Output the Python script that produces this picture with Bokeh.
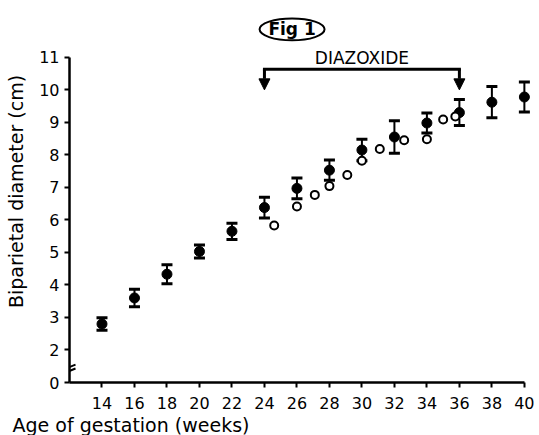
from bokeh.plotting import figure
from bokeh.models import (Range1d, FixedTicker, Whisker, TeeHead, ColumnDataSource,
                          Title, Arrow, NormalHead)
from bokeh.core.properties import value
from bokeh.embed import file_html
from bokeh.resources import INLINE

# ---- data ----
weeks_ref = [14, 16, 18, 20, 22, 24, 26, 28, 30, 32, 34, 36, 38, 40]
bpd_mean = [2.80, 3.60, 4.33, 5.03, 5.65, 6.38, 6.97, 7.53, 8.15, 8.55, 8.98, 9.30, 9.62, 9.78]
bpd_sd = [0.19, 0.27, 0.29, 0.20, 0.25, 0.32, 0.32, 0.31, 0.33, 0.50, 0.31, 0.40, 0.48, 0.46]

weeks_patient = [24.6, 26.0, 27.1, 28.0, 29.1, 30.0, 31.1, 32.6, 34.0, 35.0, 35.75]
bpd_patient = [5.83, 6.41, 6.77, 7.04, 7.38, 7.82, 8.18, 8.45, 8.48, 9.09, 9.18]

x_ticks = list(range(14, 41, 2))
y_ticks = list(range(1, 12))
y_tick_labels = {1: "0"}

diazoxide_start = 24
diazoxide_end = 36

FONT = "DejaVu Sans"

p = figure(width=535, height=435, x_range=Range1d(12, 40.5), y_range=Range1d(1, 12.748),
           output_backend="svg", toolbar_location=None,
           min_border_left=69, min_border_right=3, min_border_top=0, min_border_bottom=52)
p.outline_line_color = None
p.xgrid.visible = False
p.ygrid.visible = False
p.background_fill_color = "white"

for ax in (p.xaxis[0], p.yaxis[0]):
    ax.axis_line_width = 2.5
    ax.axis_line_color = "black"
    ax.major_tick_line_width = 2
    ax.major_tick_line_color = "black"
    ax.major_tick_out = 5
    ax.major_tick_in = 0
    ax.minor_tick_line_color = None
    ax.major_label_text_font = FONT
    ax.major_label_text_font_size = "16px"
    ax.major_label_text_color = "black"

p.xaxis.ticker = FixedTicker(ticks=x_ticks)
p.xaxis.bounds = (12, 40)
p.xaxis.major_label_standoff = 9
p.yaxis.ticker = FixedTicker(ticks=y_ticks)
p.yaxis.bounds = (1, 11)
p.yaxis.major_label_overrides = y_tick_labels
p.yaxis.major_label_standoff = 5
p.yaxis.axis_label = "Biparietal diameter (cm)"
p.yaxis.axis_label_text_font = FONT
p.yaxis.axis_label_text_font_size = "19px"
p.yaxis.axis_label_text_font_style = "normal"
p.yaxis.axis_label_text_color = "black"
p.yaxis.axis_label_standoff = 9

# x axis title, left aligned as in the original
p.add_layout(Title(text="Age of gestation (weeks)", align="left", offset=-57,
                   text_font=FONT, text_font_size="19px", text_font_style="normal",
                   text_color="black", standoff=0), "below")

# axis break marks
p.segment(x0=[11.63, 11.63], y0=[1.40, 1.28], x1=[12.37, 12.37], y1=[1.55, 1.43],
          line_width=2, line_color="black")

# reference range with SD bars
src = ColumnDataSource(dict(x=weeks_ref, y=bpd_mean,
                            upper=[m + s for m, s in zip(bpd_mean, bpd_sd)],
                            lower=[m - s for m, s in zip(bpd_mean, bpd_sd)]))
w = Whisker(source=src, base="x", upper="upper", lower="lower", dimension="height",
            line_width=2, line_color="black",
            upper_head=TeeHead(size=11, line_width=3, line_color="black"),
            lower_head=TeeHead(size=11, line_width=3, line_color="black"))
p.add_layout(w)
p.scatter("x", "y", source=src, size=10, fill_color="black", line_color="black")

# patient measurements
p.scatter(weeks_patient, bpd_patient, size=8, fill_color="white", line_color="black",
          line_width=2)

# diazoxide bracket
p.line([diazoxide_start, diazoxide_end], [10.63, 10.63], line_width=3, line_color="black",
       line_cap="square")
for xw in (diazoxide_start, diazoxide_end):
    p.add_layout(Arrow(x_start=xw, y_start=10.63, x_end=xw, y_end=10.0, line_width=3,
                       line_color="black",
                       end=NormalHead(size=11, fill_color="black", line_color="black",
                                      line_width=1)))
p.text(x=[(diazoxide_start + diazoxide_end) / 2], y=[10.97], text=["DIAZOXIDE"],
       text_align="center", text_baseline="middle", text_font=value(FONT),
       text_font_size="17px", text_color="black")

# Fig 1 label in ellipse
p.ellipse(x=[25.7], y=[11.86], width=4.0, height=0.675, fill_color=None,
          line_color="black", line_width=2)
p.text(x=[25.7], y=[11.86], text=["Fig 1"], text_align="center", text_baseline="middle",
       text_font=value(FONT), text_font_size="17px", text_font_style="bold",
       text_color="black")

open("out.html", "w").write(file_html(p, INLINE))
